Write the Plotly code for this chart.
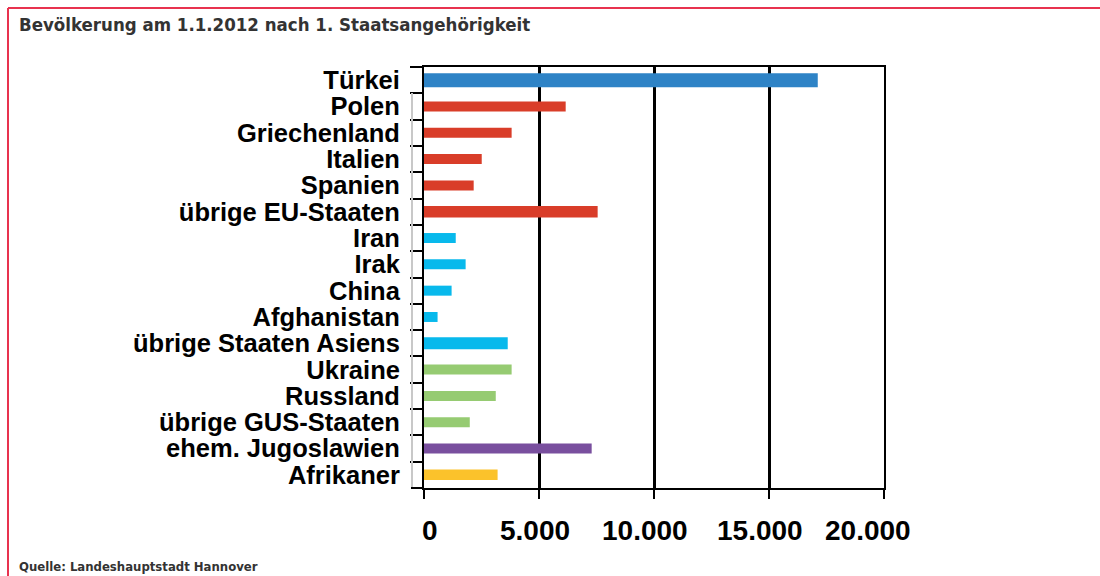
import plotly.graph_objects as go

title = "Bevölkerung am 1.1.2012 nach 1. Staatsangehörigkeit"
source = "Quelle: Landeshauptstadt Hannover"

categories = ["Türkei", "Polen", "Griechenland", "Italien", "Spanien", "übrige EU-Staaten",
              "Iran", "Irak", "China", "Afghanistan", "übrige Staaten Asiens",
              "Ukraine", "Russland", "übrige GUS-Staaten", "ehem. Jugoslawien", "Afrikaner"]
values = [17120, 6160, 3810, 2510, 2160, 7550,
          1380, 1810, 1200, 590, 3640,
          3810, 3120, 1990, 7290, 3200]
groups = ["Türkei", "EU", "EU", "EU", "EU", "EU",
          "Asien", "Asien", "Asien", "Asien", "Asien",
          "GUS", "GUS", "GUS", "Jugoslawien", "Afrika"]
x_ticks = [0, 5000, 10000, 15000, 20000]
x_tick_labels = ["0", "5.000", "10.000", "15.000", "20.000"]

group_colors = {"Türkei": "#2e83c6", "EU": "#d93d29", "Asien": "#08b9ec",
                "GUS": "#96cb72", "Jugoslawien": "#794f9e", "Afrika": "#fbc22b"}
bar_widths = [0.53, 0.38, 0.38, 0.38, 0.38, 0.43, 0.38, 0.38, 0.38, 0.38, 0.45,
              0.38, 0.38, 0.38, 0.38, 0.40]
x_label_shift = [6, -4, -9, -9, -16]  # pixel nudges of the value labels

W, H = 1100, 576
L, R, T, B = 424, 884, 67, 488

fig = go.Figure(go.Bar(
    x=values, y=categories, orientation="h",
    marker=dict(color=[group_colors[g] for g in groups], line=dict(width=0)),
    width=bar_widths, hoverinfo="x+y",
))

def px(xp):
    return (xp - L) / (R - L)

def py(yp):
    return (B - yp) / (B - T)

shapes = [
    # red frame
    dict(type="line", xref="paper", yref="paper", x0=px(8), x1=px(1100), y0=py(8), y1=py(8),
         line=dict(color="#e8324f", width=2)),
    dict(type="line", xref="paper", yref="paper", x0=px(8), x1=px(8), y0=py(8), y1=py(576),
         line=dict(color="#e8324f", width=2)),
    # gray tick column line and extended bottom line
    dict(type="line", xref="paper", yref="paper", x0=px(412), x1=px(412), y0=py(93), y1=py(488),
         line=dict(color="#c8c8c8", width=2)),
    dict(type="line", xref="paper", yref="paper", x0=px(411), x1=px(424), y0=0, y1=0,
         line=dict(color="black", width=2)),
]

annotations = [
    dict(text="<b>" + title + "</b>", xref="paper", yref="paper", x=px(17), y=py(25),
         xanchor="left", yanchor="middle", showarrow=False,
         font=dict(family="DejaVu Sans Condensed, Liberation Sans Narrow, sans-serif", size=18.5, color="#333333")),
    dict(text="<b>" + source + "</b>", xref="paper", yref="paper", x=px(17), y=py(566),
         xanchor="left", yanchor="middle", showarrow=False,
         font=dict(family="DejaVu Sans Condensed, Liberation Sans Narrow, sans-serif", size=13, color="#333333")),
]
for v, lab, sh in zip(x_ticks, x_tick_labels, x_label_shift):
    annotations.append(dict(
        text="<b>" + lab + "</b>", xref="x", yref="paper", x=v, y=py(530),
        xanchor="center", yanchor="middle", xshift=sh, showarrow=False,
        font=dict(family="Liberation Sans, Arial", size=28, color="black")))

fig.update_layout(
    width=W, height=H,
    margin=dict(l=L, r=W - R, t=T, b=H - B, pad=0),
    paper_bgcolor="white", plot_bgcolor="white",
    showlegend=False,
    shapes=shapes,
    font=dict(family="Liberation Sans, Arial, sans-serif", color="black"),
    annotations=annotations,
)

fig.update_xaxes(
    range=[0, 20000], tickvals=x_ticks, showticklabels=False,
    showgrid=True, gridcolor="black", gridwidth=2.5,
    showline=True, linecolor="black", linewidth=2, mirror=True,
    ticks="outside", ticklen=9, tickwidth=2, tickcolor="black",
    zeroline=False, fixedrange=True,
)
fig.update_yaxes(
    categoryorder="array", categoryarray=categories, autorange="reversed",
    tickmode="linear", tick0=0, dtick=1,
    tickson="boundaries", ticks="outside", ticklen=12, tickwidth=2, tickcolor="black",
    showgrid=False, showline=True, linecolor="black", linewidth=2, mirror=True,
    tickfont=dict(family="Liberation Sans, Arial", size=25.5, color="black", weight="bold"),
    ticklabelstandoff=17, fixedrange=True,
)

fig.write_html("out.html", config={"displayModeBar": False},
               post_script="document.body.style.margin='0px';document.body.style.overflow='hidden';")
